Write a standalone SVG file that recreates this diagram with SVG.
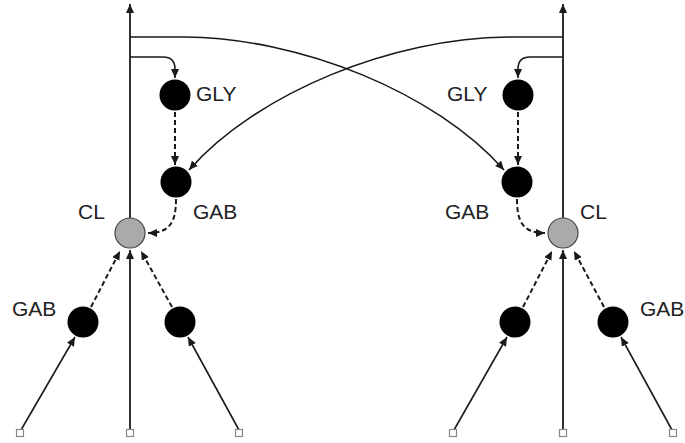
<svg xmlns="http://www.w3.org/2000/svg" width="685" height="443" viewBox="0 0 685 443">
<style>
.ln{fill:none;stroke:#1a1a1a;stroke-width:1.6}
.ax{fill:none;stroke:#1a1a1a;stroke-width:1.8}
.ds{fill:none;stroke:#1a1a1a;stroke-width:2;stroke-dasharray:5,3}
.n{fill:#000}
.cl{fill:#aaa;stroke:#444;stroke-width:1.2}
.sq{fill:#fff;stroke:#888;stroke-width:1.2}
.t{font-family:"Liberation Sans",Arial,sans-serif;font-size:21px;fill:#222}
</style>
<defs>
<marker id="ah" markerUnits="userSpaceOnUse" markerWidth="10" markerHeight="8" refX="9" refY="4" orient="auto">
<path d="M0,0 L9,4 L0,8 Z" fill="#1a1a1a"/>
</marker>
</defs>
<rect width="685" height="443" fill="#fff"/>
<g id="connectors">
<!-- main axons -->
<path class="ax" d="M130,218 V4" marker-end="url(#ah)"/>
<path class="ax" d="M130,431 V250" marker-end="url(#ah)"/>
<path class="ax" d="M563,218 V4" marker-end="url(#ah)"/>
<path class="ax" d="M563,431 V250" marker-end="url(#ah)"/>
<!-- crossing curves -->
<path class="ln" d="M130,37 L185,37 C300,38 435,92 504,170" marker-end="url(#ah)"/>
<path class="ln" d="M563,37 L508,37 C393,38 258,92 189,170" marker-end="url(#ah)"/>
<!-- branches to GLY -->
<path class="ln" d="M130,57 H163 Q175,57 175,69 V78" marker-end="url(#ah)"/>
<path class="ln" d="M563,57 H530 Q518,57 518,69 V78" marker-end="url(#ah)"/>
<!-- GLY to GAB dashed -->
<path class="ds" d="M175,112 V165" marker-end="url(#ah)"/>
<path class="ds" d="M518,112 V165" marker-end="url(#ah)"/>
<!-- GAB to CL dashed -->
<path class="ds" d="M176,199 C176,222 170,233 148,233" marker-end="url(#ah)"/>
<path class="ds" d="M517,199 C517,222 523,233 545,233" marker-end="url(#ah)"/>
<!-- bottom inputs -->
<path class="ln" d="M21,430 L75,337" marker-end="url(#ah)"/>
<path class="ln" d="M239,430 L188,337" marker-end="url(#ah)"/>
<path class="ln" d="M454,430 L507,337" marker-end="url(#ah)"/>
<path class="ln" d="M672,430 L621,337" marker-end="url(#ah)"/>
<!-- bottom nodes to CL dashed -->
<path class="ds" d="M91,307 L120,251" marker-end="url(#ah)"/>
<path class="ds" d="M172,307 L141,251" marker-end="url(#ah)"/>
<path class="ds" d="M523,307 L552,251" marker-end="url(#ah)"/>
<path class="ds" d="M604,307 L574,251" marker-end="url(#ah)"/>
</g>
<g id="left-GLY"><circle class="n" cx="175" cy="95" r="15.5"/><text class="t" x="196" y="101">GLY</text></g>
<g id="left-GAB"><circle class="n" cx="176" cy="182" r="15.5"/><text class="t" x="193" y="219">GAB</text></g>
<g id="left-CL"><circle class="cl" cx="130" cy="233" r="15"/><text class="t" x="78" y="219">CL</text></g>
<g id="left-GAB-low"><circle class="n" cx="83" cy="322" r="15.5"/><text class="t" x="12" y="316">GAB</text></g>
<g id="left-node-low2"><circle class="n" cx="180" cy="322" r="15.5"/></g>
<g id="right-GLY"><circle class="n" cx="518" cy="95" r="15.5"/><text class="t" x="447" y="101">GLY</text></g>
<g id="right-GAB"><circle class="n" cx="517" cy="182" r="15.5"/><text class="t" x="445" y="219">GAB</text></g>
<g id="right-CL"><circle class="cl" cx="563" cy="233" r="15"/><text class="t" x="580" y="219">CL</text></g>
<g id="right-node-low1"><circle class="n" cx="515" cy="322" r="15.5"/></g>
<g id="right-GAB-low"><circle class="n" cx="613" cy="322" r="15.5"/><text class="t" x="640" y="316">GAB</text></g>
<g id="inputs">
<rect class="sq" x="16.5" y="429.5" width="7" height="7"/>
<rect class="sq" x="126.5" y="429.5" width="7" height="7"/>
<rect class="sq" x="235.5" y="429.5" width="7" height="7"/>
<rect class="sq" x="449.5" y="429.5" width="7" height="7"/>
<rect class="sq" x="559.5" y="429.5" width="7" height="7"/>
<rect class="sq" x="669.5" y="429.5" width="7" height="7"/>
</g>
</svg>
